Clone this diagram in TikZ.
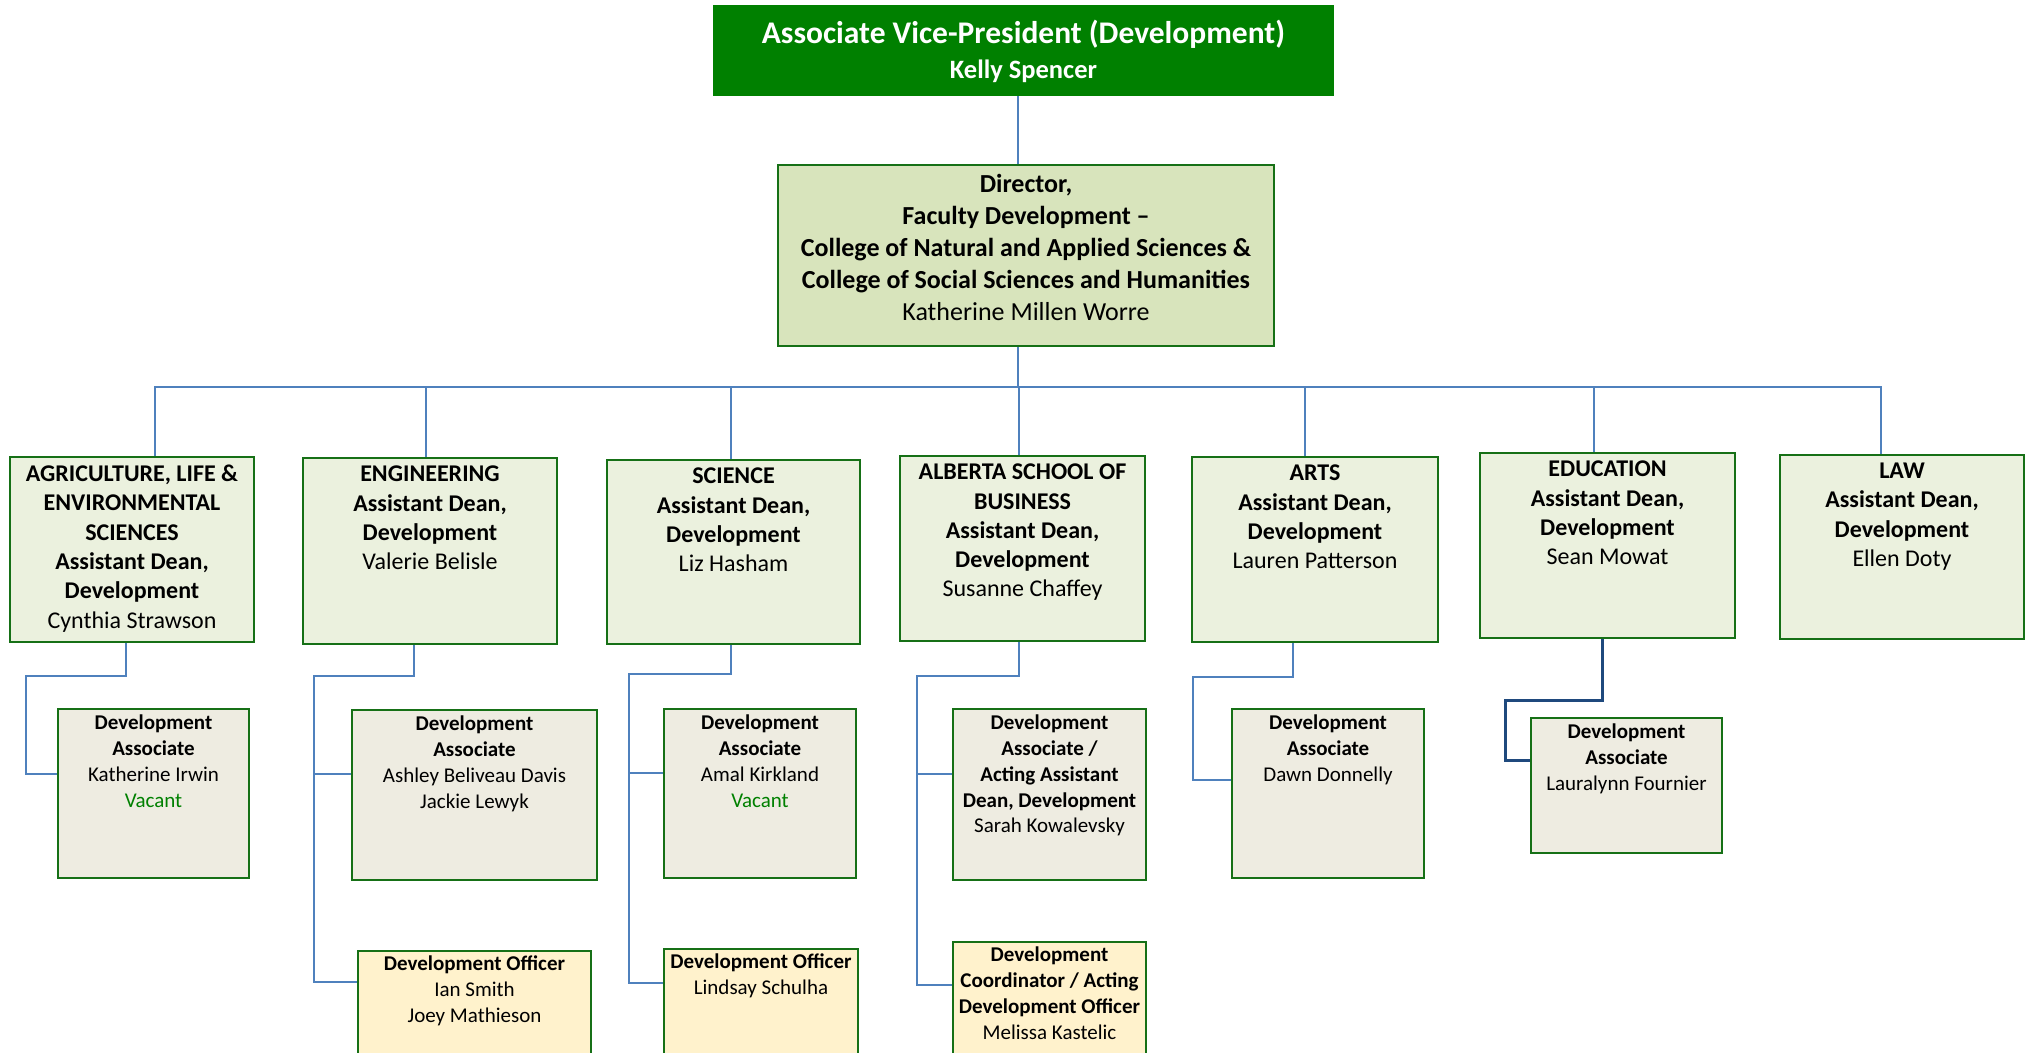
\documentclass[tikz,border=0pt]{standalone}
\usepackage{fontspec}
\setmainfont{Carlito}
\usetikzlibrary{positioning}

\definecolor{avpgreen}{RGB}{0,128,0}
\definecolor{edgegreen}{RGB}{22,112,22}
\definecolor{dirfill}{RGB}{216,228,188}
\definecolor{deanfill}{RGB}{235,241,222}
\definecolor{assocfill}{RGB}{238,236,225}
\definecolor{officerfill}{RGB}{255,242,204}
\definecolor{linkblue}{RGB}{79,129,189}
\definecolor{linknavy}{RGB}{31,73,125}
\definecolor{vacantgreen}{RGB}{0,128,0}

% text block of a box: [top pad]{width}{height}{lines}
\newcommand{\boxtext}[4][8pt]{\parbox[c][#3][t]{#2}{\vspace*{#1}\centering #4}}
\newcommand{\vacant}{\textcolor{vacantgreen}{Vacant}}

\tikzset{
	orgbox/.style={draw=edgegreen, line width=2pt, inner sep=0pt, anchor=north west},
	avpbox/.style={orgbox, draw=avpgreen, fill=avpgreen, text=white,
		font=\fontsize{31.5}{35}\selectfont\bfseries},
	dirbox/.style={orgbox, fill=dirfill, font=\fontsize{26}{32}\selectfont},
	deanbox/.style={orgbox, fill=deanfill, font=\fontsize{24}{29.3}\selectfont},
	assocbox/.style={orgbox, fill=assocfill, font=\fontsize{21}{25.8}\selectfont},
	officerbox/.style={orgbox, fill=officerfill, font=\fontsize{21}{25.8}\selectfont},
	link/.style={draw=linkblue, line width=2pt},
	navylink/.style={draw=linknavy, line width=3pt}
}

\begin{document}
\begin{tikzpicture}[x=1pt, y=-1pt]
	\useasboundingbox[fill=white] (0,0) rectangle (2026,1052);

	% top of the chart
	\node[avpbox] (avp) at (713,5)
		{\boxtext[14pt]{619pt}{89pt}{Associate Vice-President (Development)\\{\fontsize{26.5}{33}\selectfont Kelly Spencer}}};
	\node[dirbox] (dir) at (777,164)
		{\boxtext[9pt]{496pt}{181pt}{{\bfseries Director,\\Faculty Development --\\College of Natural and Applied Sciences \&\\College of Social Sciences and Humanities}\\Katherine Millen Worre}};

	% faculties
	\node[deanbox] (ag) at (9,456)
		{\boxtext{244pt}{185pt}{{\bfseries AGRICULTURE, LIFE \&\\ENVIRONMENTAL\\SCIENCES\\Assistant Dean,\\Development}\\Cynthia Strawson}};
	\node[deanbox] (eng) at (302,457)
		{\boxtext{254pt}{186pt}{{\bfseries ENGINEERING\\Assistant Dean,\\Development}\\Valerie Belisle}};
	\node[deanbox] (sci) at (606,459)
		{\boxtext{253pt}{184pt}{{\bfseries SCIENCE\\Assistant Dean,\\Development}\\Liz Hasham}};
	\node[deanbox] (bus) at (899,455)
		{\boxtext{245pt}{185pt}{{\bfseries ALBERTA SCHOOL OF\\BUSINESS\\Assistant Dean,\\Development}\\Susanne Chaffey}};
	\node[deanbox] (arts) at (1191,456)
		{\boxtext{246pt}{185pt}{{\bfseries ARTS\\Assistant Dean,\\Development}\\Lauren Patterson}};
	\node[deanbox] (edu) at (1479,452)
		{\boxtext{255pt}{185pt}{{\bfseries EDUCATION\\Assistant Dean,\\Development}\\Sean Mowat}};
	\node[deanbox] (law) at (1779,454)
		{\boxtext{244pt}{184pt}{{\bfseries LAW\\Assistant Dean,\\Development}\\Ellen Doty}};

	% staff
	\node[assocbox] (agda) at (57,708)
		{\boxtext[6pt]{191pt}{169pt}{{\bfseries Development\\Associate}\\Katherine Irwin\\\vacant}};
	\node[assocbox] (engda) at (351,709)
		{\boxtext[6pt]{245pt}{170pt}{{\bfseries Development\\Associate}\\Ashley Beliveau Davis\\Jackie Lewyk}};
	\node[officerbox] (engdo) at (357,950)
		{\boxtext[5pt]{233pt}{125pt}{{\bfseries Development Officer}\\Ian Smith\\Joey Mathieson}};
	\node[assocbox] (scida) at (663,708)
		{\boxtext[6pt]{192pt}{169pt}{{\bfseries Development\\Associate}\\Amal Kirkland\\\vacant}};
	\node[officerbox] (scido) at (663,948)
		{\boxtext[5pt]{194pt}{125pt}{{\bfseries Development Officer}\\Lindsay Schulha}};
	\node[assocbox] (busda) at (952,708)
		{\boxtext[6pt]{193pt}{171pt}{{\bfseries Development\\Associate /\\Acting Assistant\\Dean, Development}\\Sarah Kowalevsky}};
	\node[officerbox] (busdo) at (952,941)
		{\boxtext[5pt]{193pt}{130pt}{{\bfseries Development\\Coordinator / Acting\\Development Officer}\\Melissa Kastelic}};
	\node[assocbox] (artsda) at (1231,708)
		{\boxtext[6pt]{192pt}{169pt}{{\bfseries Development\\Associate}\\Dawn Donnelly}};
	\node[assocbox] (eduda) at (1530,717)
		{\boxtext[6pt]{191pt}{135pt}{{\bfseries Development\\Associate}\\Lauralynn Fournier}};

	% reporting lines
	\draw[link] ([xshift=-6pt]avp.south) -- ([xshift=-6pt]avp.south |- dir.north);
	\foreach \dean/\dx in {ag/23,eng/-4,sci/-3,bus/-4,arts/-10,edu/-14,law/-21}
		\draw[link] ([xshift=-8pt]dir.south) -- ++(0,40) -| ([xshift=\dx pt]\dean.north);

	\coordinate (agspine) at (26,676);
	\coordinate (engspine) at (314,676);
	\coordinate (scispine) at (629,674);
	\coordinate (busspine) at (917,676);
	\coordinate (artsspine) at (1193,677);
	\coordinate (eduspine) at (1505,700);

	\draw[link] ([xshift=-6pt]ag.south) |- (agspine) |- ([yshift=-66pt]agda.north west);
	\draw[link] ([xshift=-16pt]eng.south) |- (engspine) |- ([yshift=-65pt]engda.north west);
	\draw[link] (engspine) |- ([yshift=-32pt]engdo.north west);
	\draw[link] ([xshift=-3pt]sci.south) |- (scispine) |- ([yshift=-65pt]scida.north west);
	\draw[link] (scispine) |- ([yshift=-35pt]scido.north west);
	\draw[link] ([xshift=-4pt]bus.south) |- (busspine) |- ([yshift=-66pt]busda.north west);
	\draw[link] (busspine) |- ([yshift=-44pt]busdo.north west);
	\draw[link] ([xshift=-22pt]arts.south) |- (artsspine) |- ([yshift=-72pt]artsda.north west);
	\draw[navylink] ([xshift=-5pt]edu.south) |- (eduspine) |- ([yshift=-43pt]eduda.north west);
\end{tikzpicture}
\end{document}
